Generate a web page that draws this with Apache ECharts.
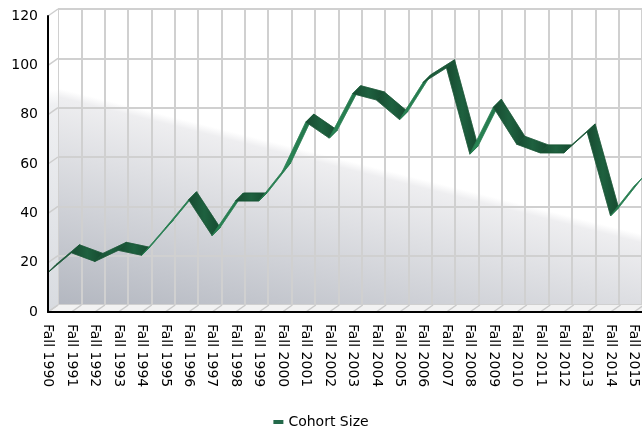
<!DOCTYPE html>
<html><head><meta charset="utf-8">
<script src="https://cdn.jsdelivr.net/npm/echarts@6/dist/echarts.min.js"></script>
<style>html,body{margin:0;padding:0;background:#fff}#c{width:642px;height:430px}</style>
</head><body><div id="c"></div>
<script>
const categories = ['Fall 1990','Fall 1991','Fall 1992','Fall 1993','Fall 1994','Fall 1995','Fall 1996','Fall 1997','Fall 1998','Fall 1999','Fall 2000','Fall 2001','Fall 2002','Fall 2003','Fall 2004','Fall 2005','Fall 2006','Fall 2007','Fall 2008','Fall 2009','Fall 2010','Fall 2011','Fall 2012','Fall 2013','Fall 2014','Fall 2015'];
const cohortSize = [16,24,20.5,25,23,34,45.5,31,45,45,57,77,70.5,88.5,86,78,93,99,64,83,68,64.5,64.5,73,39,51];
const yMin = 0, yMax = 120, yStep = 20;
const seriesName = 'Cohort Size';

const DX = 10, DY = -7;      // wall depth
const RDX = 8, RDY = -8;     // ribbon depth
const FONT = 'DejaVu Sans';
const chart = echarts.init(document.getElementById('c'), null, {renderer:'canvas'});

const wallGrad = {type:'linear', global:true, x:109, y:101, x2:58, y2:305,
  colorStops:[{offset:0,color:'#ffffff'},{offset:0.04,color:'#eeeef0'},{offset:1,color:'#b3b7c0'}]};

function renderRibbon(params, api){
  const i = api.value(0);
  if (i >= cohortSize.length - 1) return null;
  const p0 = api.coord([i, cohortSize[i]]);
  const p1 = api.coord([i+1, cohortSize[i+1]]);
  const sx = p1[0]-p0[0], sy = p1[1]-p0[1];
  const cross = sx*RDY - sy*RDX;
  const light = cross > 0;
  const fill = light
    ? {type:'linear', x:0,y:0,x2:1,y2:0, colorStops:[{offset:0,color:'#2b8a58'},{offset:1,color:'#227148'}]}
    : {type:'linear', x:0,y:0,x2:1,y2:0, colorStops:[{offset:0,color:'#174a30'},{offset:0.5,color:'#1e613f'},{offset:1,color:'#164a30'}]};
  return {
    type:'polygon',
    shape:{points:[p0, p1, [p1[0]+RDX, p1[1]+RDY], [p0[0]+RDX, p0[1]+RDY]]},
    style:{fill: fill, stroke: light ? '#267d50' : '#1a5536', lineWidth:0.6, lineJoin:'round'}
  };
}

chart.setOption({
  animation:false,
  backgroundColor:'#ffffff',
  legend:{
    data:[{name:seriesName, icon:'rect'}],
    left:'center', top:410, itemWidth:10, itemHeight:4, itemGap:5,
    textStyle:{fontFamily:FONT, fontSize:14, color:'#000'}
  },
  grid:[
    {left:48, right:8, top:16, bottom:118, show:false},
    {left:58, right:-2, top:9, bottom:125, show:true, backgroundColor:wallGrad, borderWidth:0}
  ],
  xAxis:[
    {type:'category', gridIndex:0, data:categories, boundaryGap:false, z:6,
     axisLine:{show:true, lineStyle:{color:'#000', width:2}},
     axisTick:{show:false}, splitLine:{show:false},
     axisLabel:{rotate:-90, interval:0, margin:12, fontFamily:FONT, fontSize:14, color:'#000'}},
    {type:'category', gridIndex:1, data:categories, boundaryGap:false,
     axisLine:{show:false}, axisTick:{show:false}, axisLabel:{show:false},
     splitLine:{show:true, interval:0, lineStyle:{color:'#d0d0d0', width:2}}}
  ],
  yAxis:[
    {type:'value', gridIndex:0, min:yMin, max:yMax, interval:yStep, z:6,
     axisLine:{show:true, lineStyle:{color:'#000', width:2}},
     axisTick:{show:false}, splitLine:{show:false},
     axisLabel:{margin:10, fontFamily:FONT, fontSize:14, color:'#000'}},
    {type:'value', gridIndex:1, min:yMin, max:yMax, interval:yStep,
     axisLine:{show:false}, axisTick:{show:false}, axisLabel:{show:false},
     splitLine:{show:true, lineStyle:{color:'#d0d0d0', width:2}}}
  ],
  series:[{
    name:seriesName, type:'custom', xAxisIndex:0, yAxisIndex:0, z:4, clip:false,
    itemStyle:{color:'#23694a'},
    renderItem:renderRibbon,
    data:categories.map((c,i)=>[i, cohortSize[i]])
  }]
});

// 3D walls / floor decoration derived from the axes
const px = (i,v) => chart.convertToPixel({xAxisIndex:0, yAxisIndex:0}, [i, v]);
const pO = px(0, yMin), pTop = px(0, yMax), pLast = px(categories.length-1, yMin);
const W = 642;
const g = [];
g.push({type:'polygon', z:1, silent:true,
  shape:{points:[[pO[0],pO[1]],[pO[0]+DX,pO[1]+DY],[W+DX,pO[1]+DY],[W,pO[1]]]},
  style:{fill:'#f2f2f2'}});
g.push({type:'polygon', z:1, silent:true,
  shape:{points:[[pO[0],pO[1]],[pO[0]+DX,pO[1]+DY],[pTop[0]+DX,pTop[1]+DY],[pTop[0],pTop[1]]]},
  style:{fill:{type:'linear', global:true, x:0, y:pTop[1], x2:0, y2:pO[1], colorStops:[{offset:0,color:'#ffffff'},{offset:0.25,color:'#ffffff'},{offset:0.3,color:'#eff0f2'},{offset:1,color:'#d8dbe0'}]}}});
for (let i=0;i<categories.length;i++){
  const p = px(i, yMin);
  g.push({type:'line', z:2, silent:true, shape:{x1:p[0], y1:p[1], x2:p[0]+DX, y2:p[1]+DY}, style:{stroke:'#c9c9c9', lineWidth:1.5}});
}
for (let v=yMin; v<=yMax; v+=yStep){
  const p = px(0, v);
  g.push({type:'line', z:2, silent:true, shape:{x1:p[0], y1:p[1], x2:p[0]+DX, y2:p[1]+DY}, style:{stroke:'#cdcdcd', lineWidth:1.5}});
}
g.push({type:'line', z:7, silent:true, shape:{x1:pLast[0], y1:pLast[1], x2:W, y2:pLast[1]}, style:{stroke:'#000', lineWidth:2}});
chart.setOption({graphic:g});
</script></body></html>
